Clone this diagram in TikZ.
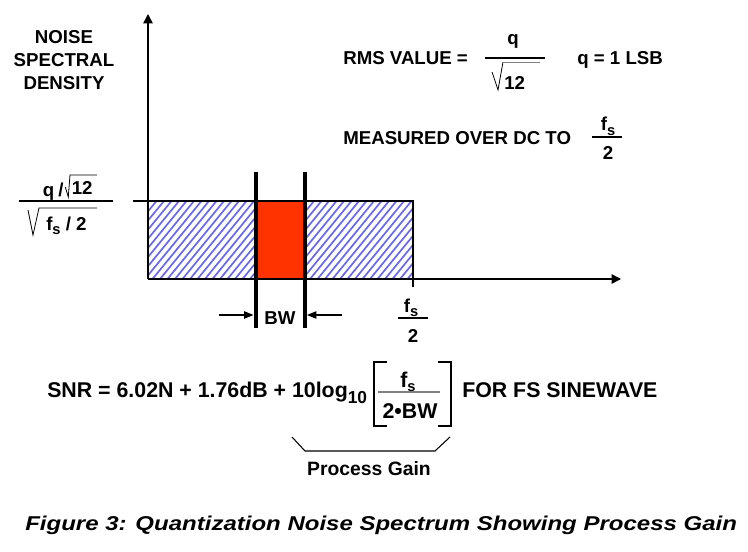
\documentclass[tikz,border=0pt]{standalone}
\usepackage{fontspec}
\setmainfont{Liberation Sans}
\newfontfamily\capfont[FakeStretch=1.2]{Liberation Sans}
\usetikzlibrary{arrows.meta}
\definecolor{hatchblue}{RGB}{102,102,238}
\definecolor{bwred}{RGB}{255,51,0}
\newcommand\subs[1]{\raisebox{-3.5pt}{\fontsize{11pt}{11pt}\selectfont #1}}
\begin{document}
\begin{tikzpicture}[x=0.75pt,y=-0.75pt,
  lab/.style={font=\fontsize{14pt}{17pt}\selectfont\bfseries, inner sep=0pt},
  big/.style={font=\fontsize{16pt}{19pt}\selectfont\bfseries, inner sep=0pt},
  gain/.style={font=\fontsize{14.5pt}{17pt}\selectfont\bfseries, inner sep=0pt},
  capt/.style={font=\capfont\fontsize{15pt}{18pt}\selectfont\bfseries\itshape, inner sep=0pt},
  axis/.style={line width=1.1pt, -{Triangle[length=7pt,width=7pt]}},
  bwarrow/.style={line width=0.8pt, -{Triangle[length=7pt,width=5.5pt]}},
  thinline/.style={line width=0.8pt},
  radline/.style={line width=0.6pt},
  thickbar/.style={line width=3pt},
  hatchline/.style={hatchblue, line width=1.25pt}
]
\useasboundingbox (0,0) rectangle (748,552);
\fill[white] (0,0) rectangle (748,552);

% hatched noise rectangle
\begin{scope}
  \clip (148,201) rectangle (413,279);
  \foreach \k in {-80,-72.5,...,420} \draw[hatchline] (\k,279) -- ++(64,-78);
\end{scope}
\fill[bwred] (256,201) rectangle (305,279);

% axes
\coordinate (O) at (148,279);
\coordinate (ytip) at (148,14);
\coordinate (xtip) at (621,279);
\coordinate (lvl) at (133,201);
\coordinate (tr) at (413,201);
\coordinate (tick) at (413,287);
\draw[axis] (O) -- (ytip);
\draw[axis] (O) -- (xtip);
\draw[line width=1.1pt] (lvl) -- (tr) -- (tick);

% BW bars
\coordinate (b1t) at (255.5,172); \coordinate (b1b) at (255.5,328);
\coordinate (b2t) at (305,172);   \coordinate (b2b) at (305,328);
\draw[thickbar] (b1t) -- (b1b);
\draw[thickbar] (b2t) -- (b2b);
\coordinate (bwLs) at (219,315); \coordinate (bwLe) at (253.5,315);
\coordinate (bwRs) at (342,315); \coordinate (bwRe) at (307,315);
\draw[bwarrow] (bwLs) -- (bwLe);
\draw[bwarrow] (bwRs) -- (bwRe);
\node[lab, anchor=base] (bw) at (280,324) {BW};

% fs/2 under axis
\node[lab, anchor=base] (fsx) at (411,312) {f\subs{s}};
\draw[thinline] (398,318) -- (428,318);
\node[lab, anchor=base] (twox) at (413,342) {2};

% left label
\node[lab, anchor=base] (l1) at (64,44) {NOISE};
\node[lab, anchor=base] (l2) at (64,67) {SPECTRAL};
\node[lab, anchor=base] (l3) at (64,90) {DENSITY};

% left fraction
\node[lab, anchor=base] (lq) at (48.5,196) {q};
\node[lab, anchor=base] (lsl) at (61,196) {/};
\draw[radline] (65.3,187) -- (68.3,197) -- (70,175) -- (97,175);
\node[lab, anchor=base west] (l12) at (71.5,195) {12};
\draw[thinline] (19,201) -- (113,201);
\draw[radline] (28,210) -- (33,235) -- (39,208) -- (97,208);
\node[lab, anchor=base west] (lfs) at (46,230) {f\subs{s} / 2};

% RMS value
\node[lab, anchor=base west] (rms) at (343,65) {RMS VALUE =};
\node[lab, anchor=base] (rq) at (513,45) {q};
\draw[thinline] (485,58) -- (545,58);
\draw[radline] (492,72) -- (498,90) -- (503,62);
\draw[radline, gray] (503,62) -- (540,62);
\node[lab, anchor=base west] (r12) at (504,90) {12};
\node[lab, anchor=base west] (lsb) at (577,65) {q = 1 LSB};

% measured
\node[lab, anchor=base west] (meas) at (343,145) {MEASURED OVER DC TO};
\node[lab, anchor=base] (mfs) at (608,131) {f\subs{s}};
\draw[thinline] (592,137) -- (622,137);
\node[lab, anchor=base] (m2) at (608,160) {2};

% SNR formula
\node[big, anchor=base west] (snr) at (47,397) {SNR = 6.02N + 1.76dB + 10log\raisebox{-5pt}{\fontsize{13pt}{13pt}\selectfont 10}};
\draw[thinline] (387,362) -- (374,362) -- (374,426) -- (387,426);
\draw[thinline] (438,362) -- (451,362) -- (451,426) -- (438,426);
\node[big, anchor=base] (sfs) at (408,387) {f\subs{s}};
\draw[gray, line width=1pt] (378,392) -- (440,392);
\node[big, anchor=base] (sbw) at (410,418) {2•BW};
\node[big, anchor=base west] (sine) at (462,397) {FOR FS SINEWAVE};

% process gain brace
\draw[thinline] (292,437) -- (305,451) -- (435,451) -- (450,437);
\node[gain, anchor=base] (pg) at (369,475) {Process Gain};

% caption
\node[capt, anchor=base west] (cap) at (25,530) {Figure 3: Quantization Noise Spectrum Showing Process Gain};
\end{tikzpicture}
\end{document}
